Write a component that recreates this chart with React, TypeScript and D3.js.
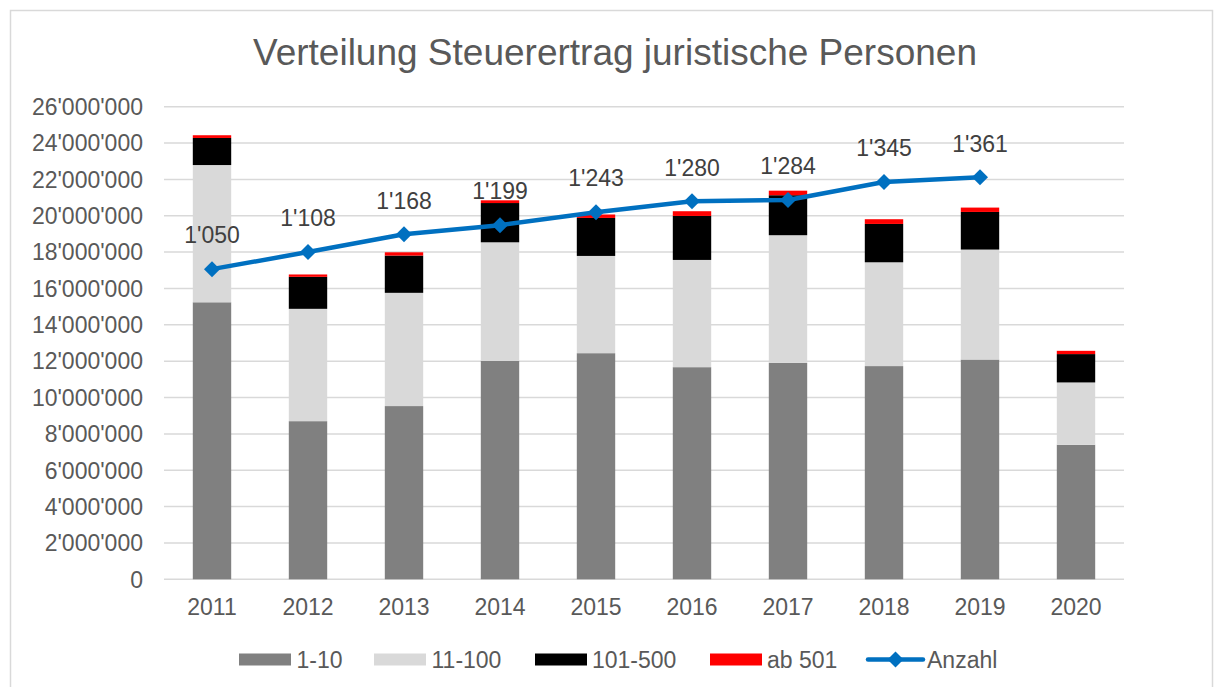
import React from "react";
import * as d3 from "d3";

const years = ["2011", "2012", "2013", "2014", "2015", "2016", "2017", "2018", "2019", "2020"];
const s1to10 = [15240000, 8700000, 9530000, 12020000, 12440000, 11670000, 11910000, 11730000, 12090000, 7400000];
const s11to100 = [7550000, 6180000, 6230000, 6520000, 5350000, 5900000, 7020000, 5710000, 6050000, 3430000];
const s101to500 = [1490000, 1760000, 2050000, 2160000, 2090000, 2420000, 2200000, 2110000, 2070000, 1560000];
const sAb501 = [150000, 130000, 180000, 150000, 190000, 260000, 250000, 260000, 240000, 180000];
const anzahlYears = ["2011", "2012", "2013", "2014", "2015", "2016", "2017", "2018", "2019"];
const anzahl = [1050, 1108, 1168, 1199, 1243, 1280, 1284, 1345, 1361];
const yTicks = [0, 2000000, 4000000, 6000000, 8000000, 10000000, 12000000, 14000000, 16000000, 18000000, 20000000, 22000000, 24000000, 26000000];

const seriesNames = ["1-10", "11-100", "101-500", "ab 501"];
const seriesColors = ["#808080", "#d9d9d9", "#000000", "#ff0000"];
const lineColor = "#0070c0";
const font = "'Liberation Sans', Arial, sans-serif";

const fmt = (v: number) => {
  if (v === 0) return "0";
  return d3.format(",")(v).replace(/,/g, "'");
};

export default function App() {
  const W = 1215, H = 687;
  const left = 164, right = 1124, top = 106.7, bottom = 579.3;
  const x = d3.scaleBand().domain(years).range([left, right]).paddingInner(0.6).paddingOuter(0.3);
  const y = d3.scaleLinear().domain([0, 26000000]).range([bottom, top]);
  const y2 = d3.scaleLinear().domain([0, 1600]).range([bottom, top]);

  const table = years.map((yr, i) => ({ year: yr, s0: s1to10[i], s1: s11to100[i], s2: s101to500[i], s3: sAb501[i] }));
  const stack = d3.stack<any>().keys(["s0", "s1", "s2", "s3"])(table);

  const cx = (yr: string) => (x(yr) as number) + x.bandwidth() / 2;
  const linePath = d3.line<number>().x((_, i) => cx(anzahlYears[i])).y((d) => y2(d))(anzahl) as string;
  const diamond = (px: number, py: number, r: number) => `M${px},${py - r}L${px + r},${py}L${px},${py + r}L${px - r},${py}Z`;

  const legendItems = [
    { x: 239, tx: 296.5 },
    { x: 374, tx: 431.5 },
    { x: 535, tx: 592 },
    { x: 710, tx: 767 },
  ];

  return (
    <svg width={W} height={H} style={{ position: "absolute", left: 0, top: 0, background: "#fff" }} fontFamily={font}>
      <rect x={0} y={0} width={W} height={H} fill="#fff" />
      <rect x={10.5} y={10.5} width={1202} height={700} fill="#fff" stroke="#d9d9d9" strokeWidth={1.5} />
      <text x={615} y={65} textAnchor="middle" fontSize={37} fill="#595959">Verteilung Steuerertrag juristische Personen</text>
      {yTicks.map((t) => (
        <g key={t}>
          <line x1={left} x2={right} y1={y(t)} y2={y(t)} stroke="#d9d9d9" strokeWidth={1.5} />
          <text x={143} y={y(t)} dy="0.36em" textAnchor="end" fontSize={23} fill="#595959">{fmt(t)}</text>
        </g>
      ))}
      {stack.map((layer, si) => (
        <g key={si} fill={seriesColors[si]}>
          {layer.map((d, i) => (
            <rect key={i} x={x(years[i])} width={x.bandwidth()} y={y(d[1])} height={y(d[0]) - y(d[1])} />
          ))}
        </g>
      ))}
      {years.map((yr) => (
        <text key={yr} x={cx(yr)} y={607} dy="0.36em" textAnchor="middle" fontSize={23} fill="#595959">{yr}</text>
      ))}
      <path d={linePath} fill="none" stroke={lineColor} strokeWidth={4.5} strokeLinejoin="round" />
      {anzahl.map((v, i) => (
        <g key={i}>
          <path d={diamond(cx(anzahlYears[i]), y2(v), 8)} fill={lineColor} />
          <text x={cx(anzahlYears[i])} y={y2(v) - 34} dy="0.36em" textAnchor="middle" fontSize={23} fill="#404040">{fmt(v)}</text>
        </g>
      ))}
      {seriesNames.map((n, i) => (
        <g key={n}>
          <rect x={legendItems[i].x} y={653.5} width={52} height={12} fill={seriesColors[i]} />
          <text x={legendItems[i].tx} y={659.5} dy="0.36em" fontSize={23} fill="#595959">{n}</text>
        </g>
      ))}
      <line x1={868} x2={923} y1={659.5} y2={659.5} stroke={lineColor} strokeWidth={4.5} strokeLinecap="round" />
      <path d={diamond(895.5, 659.5, 8)} fill={lineColor} />
      <text x={927} y={659.5} dy="0.36em" fontSize={23} fill="#595959">Anzahl</text>
    </svg>
  );
}
